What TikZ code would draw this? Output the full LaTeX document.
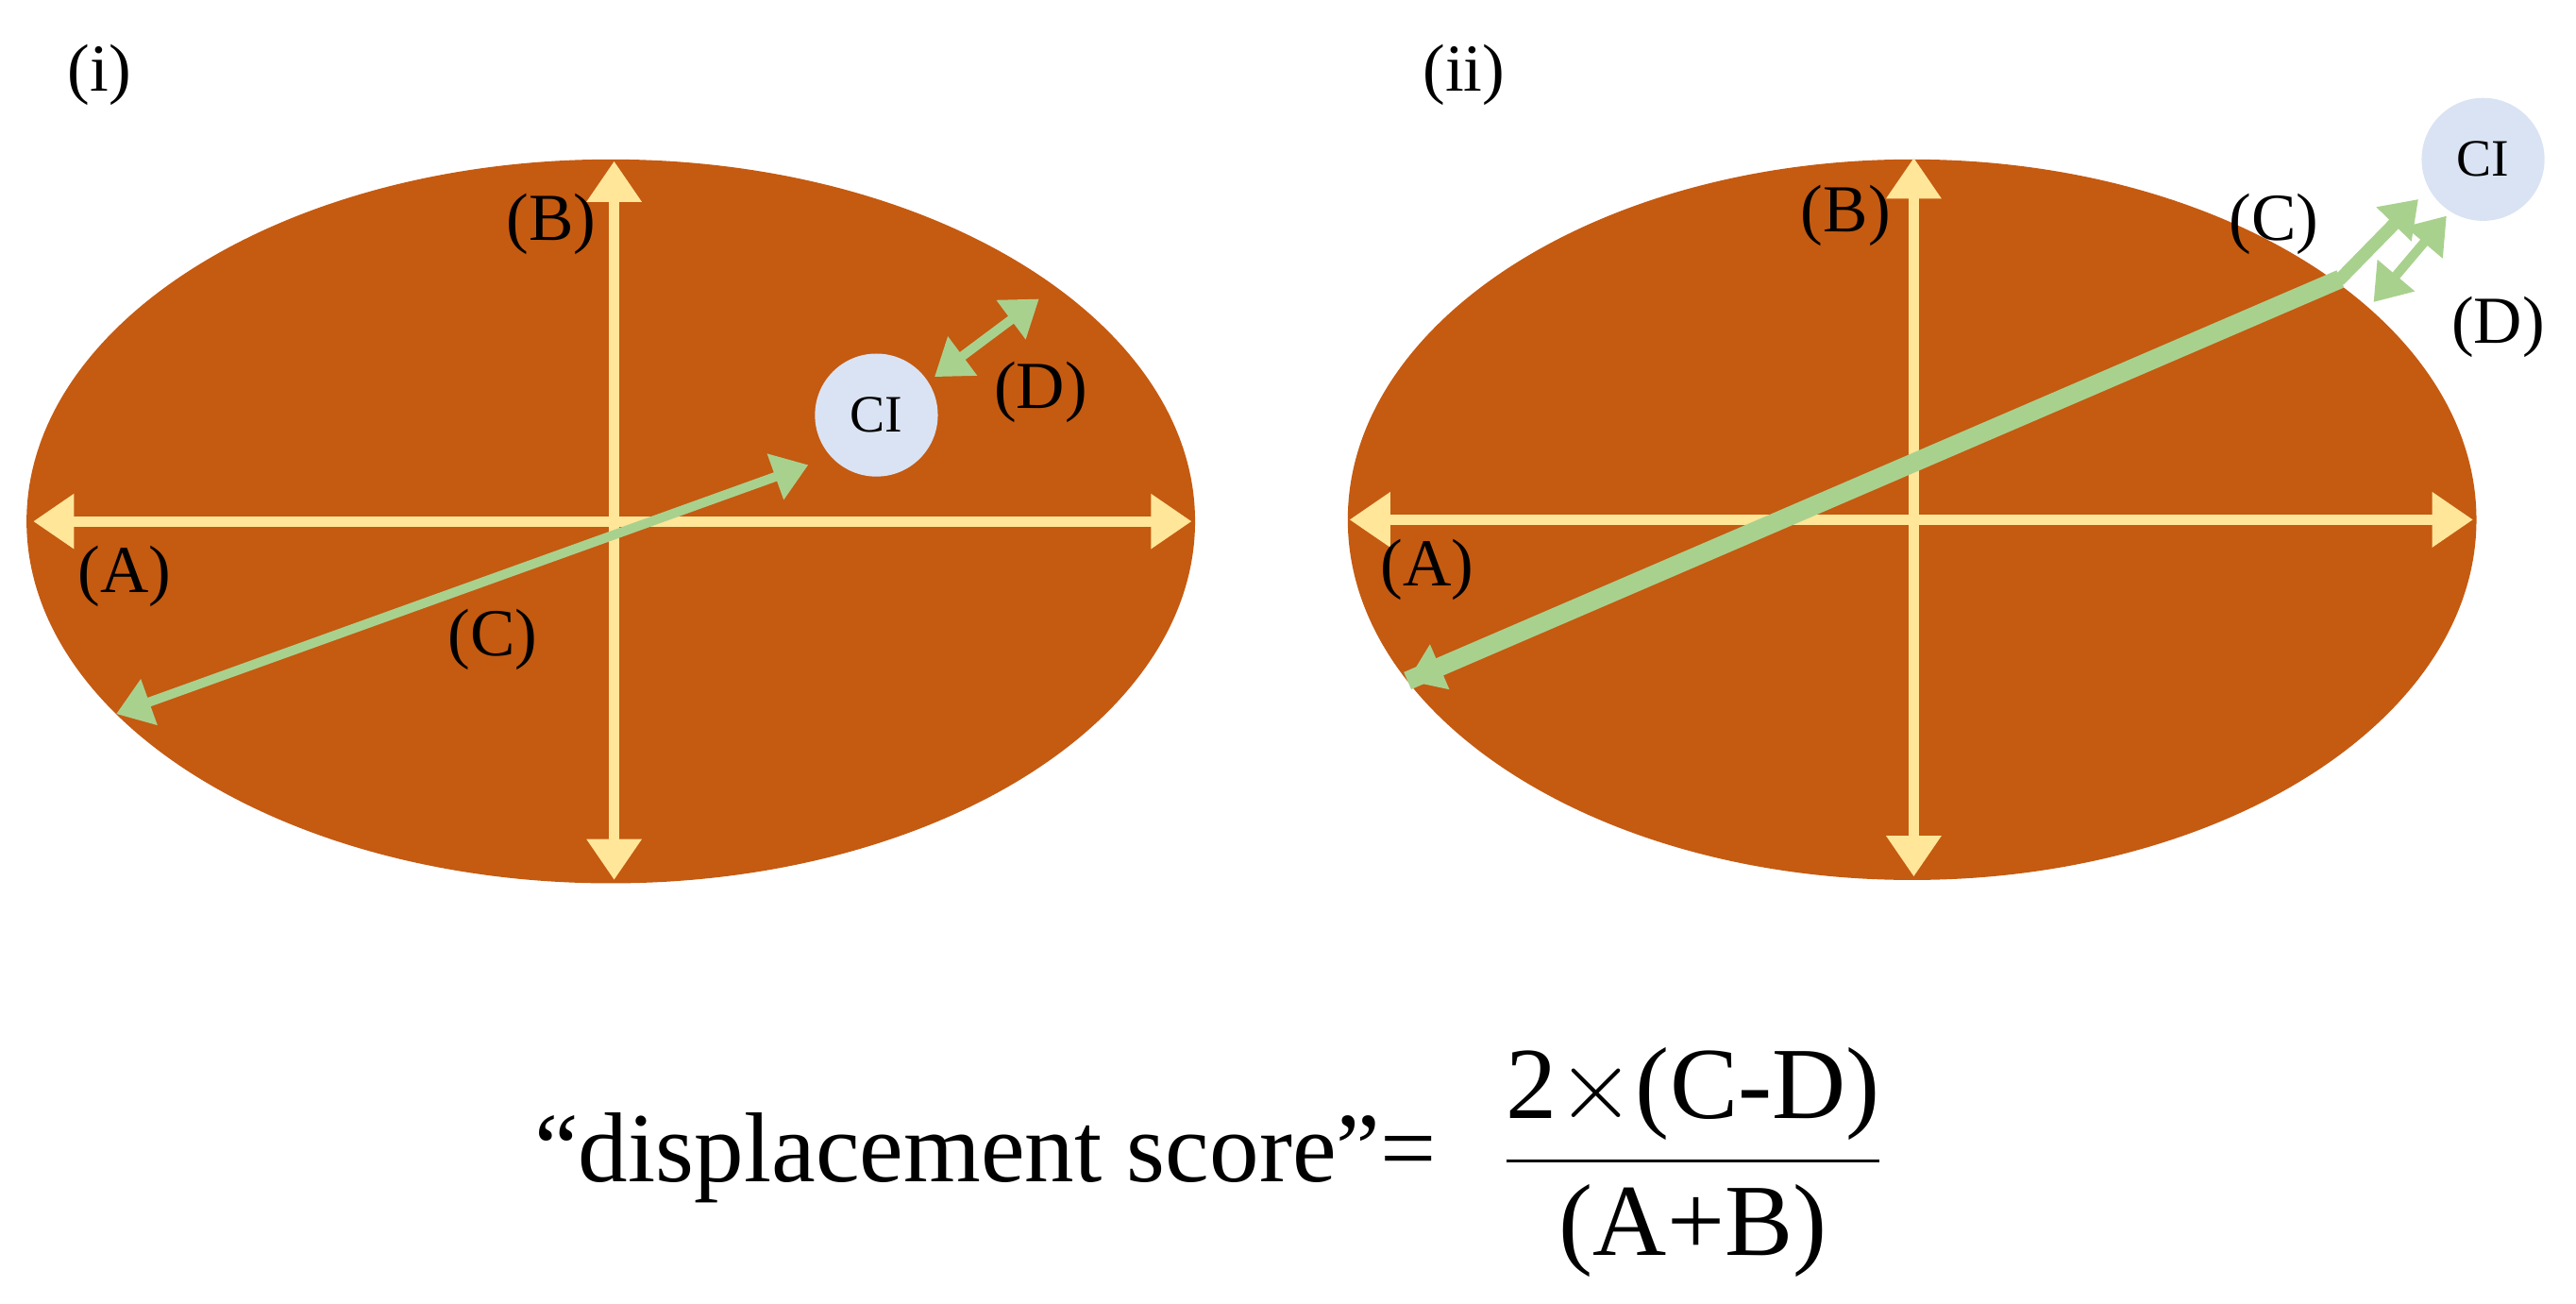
\documentclass[tikz,border=0pt]{standalone}
\usepackage{fontspec}
\setmainfont{Liberation Serif}
\usetikzlibrary{arrows.meta}
\definecolor{rust}{HTML}{C55A11}
\definecolor{ylw}{HTML}{FFE699}
\definecolor{grn}{HTML}{A9D18E}
\definecolor{ci}{HTML}{DAE3F3}
\begin{document}
\begin{tikzpicture}[x=0.01cm,y=-0.01cm,
  yarr/.style={draw=ylw,line width=1.8pt,{Triangle[length=7pt,width=9pt]}-{Triangle[length=7pt,width=9pt]}},
  garr/.style={draw=grn,line width=1.6pt,{Triangle[length=6pt,width=8pt]}-{Triangle[length=6pt,width=8pt]}},
  lab/.style={font=\fontsize{11.5}{13}\selectfont},
  cin/.style={circle,fill=ci,minimum size=0.74cm,inner sep=0pt,font=\fontsize{9}{10}\selectfont}]
\useasboundingbox (0,0) rectangle (1552,785);
\node[lab] (ti) at (60,45) {(i)};
\node[lab] (tii) at (882,45) {(ii)};
% left
\fill[rust] (368,314) ellipse [x radius=352,y radius=218];
\coordinate (la1) at (20,314); \coordinate (la2) at (718,314);
\coordinate (lb1) at (370,97); \coordinate (lb2) at (370,530);
\draw[yarr] (la1) -- (la2);
\draw[yarr] (lb1) -- (lb2);
\node[lab] (lA) at (75,347) {(A)};
\node[lab] (lB) at (332,135) {(B)};
\node[cin] (lci) at (528,250) {CI};
\coordinate (lc1) at (70,430); \coordinate (lc2) at (487,280);
\draw[garr] (lc1) -- (lc2);
\node[lab] (lC) at (297,385) {(C)};
\coordinate (ld1) at (563,227); \coordinate (ld2) at (626,180);
\draw[garr] (ld1) -- (ld2);
\node[lab] (lD) at (627,236) {(D)};
% right
\fill[rust] (1152,313) ellipse [x radius=340,y radius=217];
\coordinate (ra1) at (813,313); \coordinate (ra2) at (1490,313);
\coordinate (rb1) at (1153,95); \coordinate (rb2) at (1153,528);
\draw[yarr] (ra1) -- (ra2);
\draw[yarr] (rb1) -- (rb2);
\node[lab] (rA) at (860,343) {(A)};
\node[lab] (rB) at (1112,130) {(B)};
\node[cin] (rci) at (1496,96) {CI};
\coordinate (rc1) at (848,410); \coordinate (rcm) at (1410,168); \coordinate (rc2) at (1457,120);
\draw[grn,line width=3.2pt] (rc1) -- (rcm);
\draw[garr,line width=2.2pt] (rc1) -- (rcm) -- (rc2);
\node[lab] (rC) at (1370,135) {(C)};
\coordinate (rd1) at (1430,182); \coordinate (rd2) at (1474,130);
\draw[garr] (rd1) -- (rd2);
\node[lab] (rD) at (1505,197) {(D)};
% formula
\node[font=\fontsize{17}{20}\selectfont,anchor=base east,inner sep=0pt] (fs) at (866,712) {“displacement score”=};
\node[font=\fontsize{17.5}{20}\selectfont] (fr) at (1020,700) {$\displaystyle\frac{\mbox{2}{\times}\mbox{(C-D)}}{\mbox{(A+B)}}$};
\end{tikzpicture}
\end{document}
